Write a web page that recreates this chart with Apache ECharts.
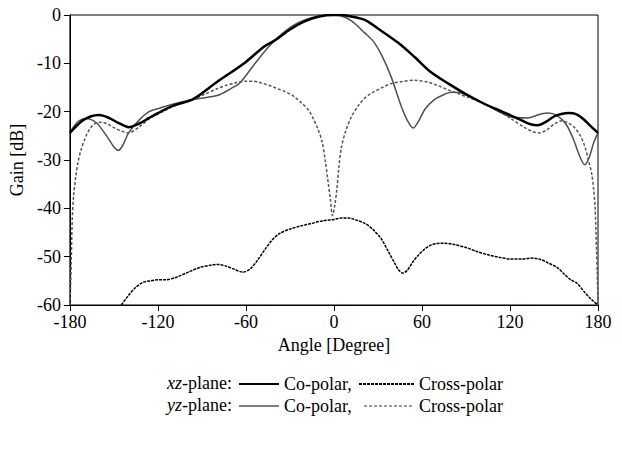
<!DOCTYPE html>
<html><head><meta charset="utf-8">
<script src="https://cdn.jsdelivr.net/npm/echarts@6/dist/echarts.min.js"></script>
<style>html,body{margin:0;padding:0;background:#fff}#c{width:622px;height:457px}</style>
</head><body><div id="c"></div>
<script>
// x ticks / y ticks
const xTicks = [-180, -120, -60, 0, 60, 120, 180];
const yTicks = [0, -10, -20, -30, -40, -50, -60];

// xz-plane co-polar
const xzCoAngle = [-180,-172,-166,-160,-154,-147,-140,-133,-126,-120,-110,-96,-80,-60,-48,-40,-30,-20,-10,0,5,10,21,30,44,55,66,78,89,100,110,120,128,134,139,145,150,155,160,165,170,175,180];
const xzCoGain  = [-24.4,-22.0,-21.0,-20.7,-21.2,-22.3,-23.2,-22.5,-21.3,-20.3,-18.8,-17.4,-13.9,-9.7,-6.6,-5.2,-3.0,-1.3,-0.3,0,0,-0.2,-1.0,-2.8,-5.8,-8.7,-11.8,-14.2,-16.2,-18.0,-19.4,-20.7,-21.8,-22.6,-22.8,-22.0,-21.0,-20.5,-20.3,-20.5,-21.5,-23.0,-24.4];

// xz-plane cross-polar
const xzCrossAngle = [-145,-140,-135,-130,-125,-120,-115,-108,-100,-92,-85,-80,-74,-68,-62,-57,-52,-47,-42,-37,-30,-22,-15,-8,0,5,10,15,21,26,32,37,41.5,44,47,50,54,57.5,62,66,70,75,82,90,98,106,114,120,128,135,141,146,152,157,161,165.6,171,176,180];
const xzCrossGain  = [-60,-58,-56.3,-55.3,-55,-54.8,-54.8,-54.3,-53.3,-52.3,-51.8,-51.6,-51.9,-52.6,-53.2,-52.5,-50.7,-48.5,-46.5,-45.2,-44.3,-43.6,-43.1,-42.6,-42.3,-42.0,-42.0,-42.4,-43.1,-44.2,-46.2,-48.9,-51.4,-52.7,-53.4,-52.8,-51.0,-49.7,-48.4,-47.6,-47.3,-47.2,-47.5,-48.1,-49.0,-49.7,-50.2,-50.5,-50.5,-50.3,-50.6,-51.3,-52.2,-53.6,-54.7,-55.5,-57.4,-59.0,-60];

// yz-plane co-polar
const yzCoAngle = [-180,-175,-169,-162,-155,-150,-147,-144,-140,-133,-126,-118,-108,-96,-86,-78,-70,-64,-55,-48,-42,-35,-28,-20,-10,-3,5,12,21,27,33,39,46,50,54,58,62,68,74,80,86,95,105,120,132,140,146,152,158,163,167,171,174,177,180];
const yzCoGain  = [-24.4,-22.2,-21.4,-22.3,-25.0,-27.3,-28.0,-27.0,-24.4,-21.8,-20.0,-19.2,-18.3,-17.5,-17.0,-16.5,-15.2,-14.0,-10.5,-7.8,-5.8,-3.8,-2.2,-1.0,-0.2,0,-0.2,-1.2,-3.7,-5.5,-8.6,-12.8,-19.0,-21.8,-23.4,-21.8,-19.5,-17.6,-16.6,-16.0,-16.1,-17.2,-18.8,-21.0,-21.3,-20.6,-20.3,-20.8,-22.5,-25.5,-28.8,-31.0,-29.5,-26.5,-24.4];

// yz-plane cross-polar
const yzCrossAngle = [-180,-179.5,-179,-178.4,-177.5,-176,-174.5,-172.5,-170,-168,-165,-162,-158,-154,-150,-145,-140,-133,-125,-118,-110,-103,-96,-88,-80,-74,-67,-60,-55,-50,-44,-38,-33,-28,-22,-17,-14,-11,-8,-6,-4,-2.5,-1,0.5,2,3.2,5,8,12,17,21,26,33,39,46,55,64,70,78,85,91,100,110,120,130,136,140,145,150,155,160,164,168,171,173.5,175.7,177,178,179,179.5,180];
const yzCrossGain  = [-60,-56,-50,-42.4,-37.5,-33.5,-30.5,-28,-25.8,-24.4,-23,-22.3,-22.2,-22.6,-23.3,-24,-24.4,-23.2,-21.3,-20.2,-19,-18.1,-17.4,-16.4,-15.3,-14.6,-14,-13.7,-13.7,-14,-14.6,-15.3,-15.9,-16.7,-18.2,-19.8,-21.5,-23.5,-26.3,-30,-34.5,-38,-41.5,-39.5,-36,-32,-27.5,-24,-21,-18.6,-17.2,-16.1,-15,-14.2,-13.8,-13.5,-13.9,-14.5,-15.5,-16.3,-17,-18,-19.5,-21.3,-23.3,-24.2,-24.4,-23.8,-22.6,-21.9,-22.4,-23.3,-25,-27.2,-30,-32.8,-36,-39.7,-48.6,-53.5,-60];

function pairs(a, g) { return a.map((v, i) => [v, g[i]]); }

const serif = 'Liberation Serif';
const FS = 18;
const chart = echarts.init(document.getElementById('c'), null, { renderer: 'svg' });

const legendText = { fontFamily: serif, fontSize: FS, color: '#000' };
function lg(name, label, left, top, w, color) {
  return {
    data: [name], left: left, top: top, padding: 0, itemWidth: w, itemHeight: 14,
    selectedMode: false, formatter: () => label, textStyle: legendText,
    lineStyle: { color: color },
    itemStyle: { color: 'rgba(0,0,0,0)', borderWidth: 0, opacity: 0 }
  };
}

chart.setOption({
  animation: false,
  backgroundColor: '#fff',
  textStyle: { fontFamily: serif },
  grid: { left: 66, right: 24, top: 15, bottom: 152, show: true, borderColor: '#000', borderWidth: 1 },
  xAxis: {
    type: 'value', min: xTicks[0], max: xTicks[xTicks.length - 1], interval: 60,
    axisLine: { onZero: false, lineStyle: { color: '#000', width: 1 } },
    axisTick: { length: 6, lineStyle: { color: '#000' } },
    axisLabel: { color: '#000', fontFamily: serif, fontSize: FS, margin: 8 },
    splitLine: { show: false },
    name: 'Angle [Degree]', nameLocation: 'middle', nameGap: 27,
    nameTextStyle: { color: '#000', fontFamily: serif, fontSize: FS }
  },
  yAxis: {
    type: 'value', min: yTicks[yTicks.length - 1], max: yTicks[0], interval: 10,
    axisLine: { show: true, onZero: false, lineStyle: { color: '#000', width: 1 } },
    axisTick: { show: true, length: 6, lineStyle: { color: '#000' } },
    axisLabel: { color: '#000', fontFamily: serif, fontSize: FS, margin: 9 },
    splitLine: { show: false },
    name: 'Gain [dB]', nameLocation: 'middle', nameGap: 27, nameRotate: 90,
    nameTextStyle: { color: '#000', fontFamily: serif, fontSize: FS }
  },
  legend: [
    lg('xz-plane Co-polar', 'Co-polar,', 238, 375, 40, '#000'),
    lg('xz-plane Cross-polar', 'Cross-polar', 358, 375, 55, '#000'),
    lg('yz-plane Co-polar', 'Co-polar,', 238, 397, 40, '#808080'),
    lg('yz-plane Cross-polar', 'Cross-polar', 363, 397, 50, '#999')
  ],
  graphic: [
    { type: 'text', x: 232, y: 383, style: { text: '{i|xz}-plane:', fill: '#000', fontFamily: serif, fontSize: FS, align: 'right', verticalAlign: 'middle',
      rich: { i: { fontStyle: 'italic', fontFamily: serif, fontSize: FS, fill: '#000' } } } },
    { type: 'text', x: 232, y: 405, style: { text: '{i|yz}-plane:', fill: '#000', fontFamily: serif, fontSize: FS, align: 'right', verticalAlign: 'middle',
      rich: { i: { fontStyle: 'italic', fontFamily: serif, fontSize: FS, fill: '#000' } } } }
  ],
  series: [
    { name: 'yz-plane Cross-polar', type: 'line', data: pairs(yzCrossAngle, yzCrossGain), showSymbol: false, symbol: 'none', smooth: 0.3, clip: true,
      itemStyle: { color: '#555' }, lineStyle: { color: '#555', width: 1.5, type: [3, 2] } },
    { name: 'xz-plane Cross-polar', type: 'line', data: pairs(xzCrossAngle, xzCrossGain), showSymbol: false, symbol: 'none', smooth: 0.3, clip: true,
      itemStyle: { color: '#000' }, lineStyle: { color: '#000', width: 1.5, type: [3, 1] } },
    { name: 'yz-plane Co-polar', type: 'line', data: pairs(yzCoAngle, yzCoGain), showSymbol: false, symbol: 'none', smooth: 0.3, clip: true,
      itemStyle: { color: '#505050' }, lineStyle: { color: '#505050', width: 1.5 } },
    { name: 'xz-plane Co-polar', type: 'line', data: pairs(xzCoAngle, xzCoGain), showSymbol: false, symbol: 'none', smooth: 0.3, clip: true,
      itemStyle: { color: '#000' }, lineStyle: { color: '#000', width: 2.5 } }
  ]
});
</script></body></html>
